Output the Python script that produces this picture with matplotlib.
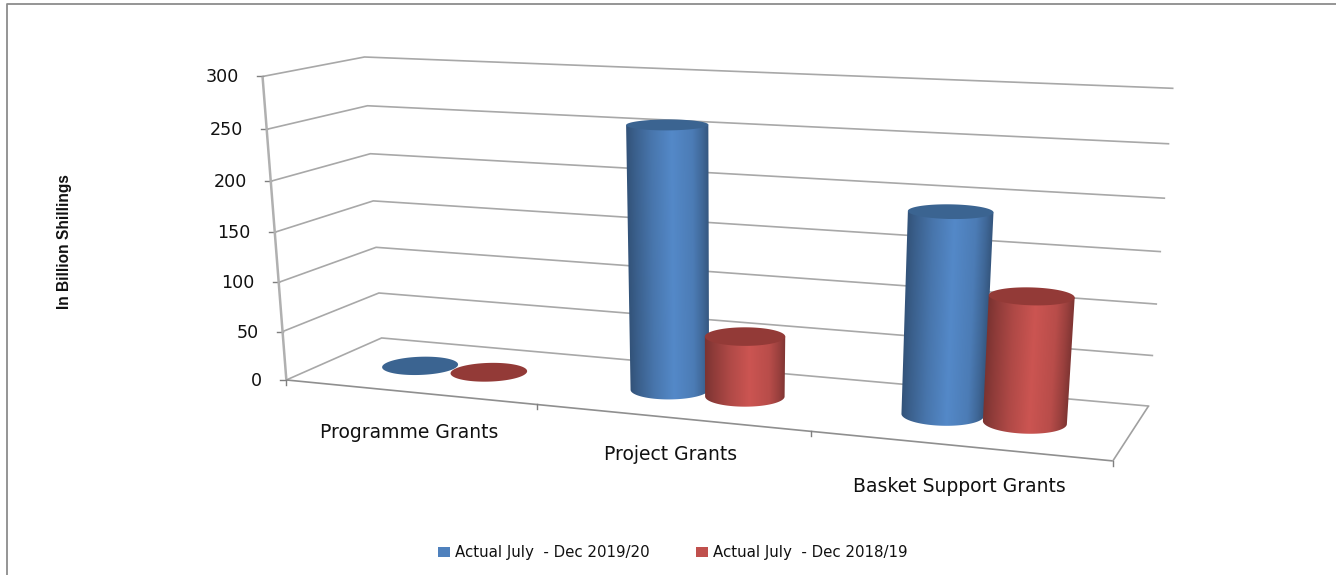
import numpy as np
import matplotlib
matplotlib.use('Agg')
import matplotlib.pyplot as plt
from matplotlib.colors import to_rgb
from matplotlib.patches import Patch, Polygon

# chart values, billion shillings
categories = ['Programme Grants', 'Project Grants', 'Basket Support Grants']
series_names = ['Actual July  - Dec 2019/20', 'Actual July  - Dec 2018/19']
actual_2019_20 = [0.3, 259, 193]
actual_2018_19 = [0.3, 60, 120]
value_ticks = [0, 50, 100, 150, 200, 250, 300]

SERIES_COLORS = ['#4f81bd', '#c0504d']
TOP_COLORS = ['#3b6491', '#933a37']
GRID_COLOR = '#a8a8a8'
BAR_OFFSET = 0.142
RADIUS_X = 0.14
RADIUS_D = 0.20
LABEL_POS = [(409, 433), (671, 455), (959, 487)]

# pixel positions of the plot box corners, used to fit the camera:
# (category position, depth, value) -> (px, py)
calib = [
    (0, 0, 300, 262, 77), (0, 0, 250, 267, 129), (0, 0, 200, 270, 181),
    (0, 0, 150, 274, 232), (0, 0, 100, 278, 282), (0, 0, 50, 283, 331),
    (0, 0, 0, 288, 380),
    (0, 1, 300, 365, 57), (0, 1, 250, 368, 106), (0, 1, 200, 371, 154),
    (0, 1, 150, 373, 201), (0, 1, 100, 376, 247), (0, 1, 50, 379, 293),
    (0, 1, 0, 380, 338),
    (3, 1, 300, 1173, 88), (3, 1, 250, 1168, 144), (3, 1, 200, 1164, 198),
    (3, 1, 150, 1160, 252), (3, 1, 100, 1157, 304), (3, 1, 50, 1153, 355),
    (3, 1, 0, 1148, 406),
    (3, 0, 0, 1113, 460), (1, 0, 0, 538, 405), (2, 0, 0, 810, 433),
]


def fit_camera(points):
    """ Least squares fit of a 3x4 projection matrix (last element fixed to 1). """
    rows, rhs = [], []
    for x, d, v, px, py in points:
        w = [x, d, v / 100, 1]
        rows.append(w + [0, 0, 0, 0] + [-px * c for c in w[:3]])
        rhs.append(px)
        rows.append([0, 0, 0, 0] + w + [-py * c for c in w[:3]])
        rhs.append(py)
    sol = np.linalg.lstsq(np.array(rows, float), np.array(rhs, float), rcond=None)[0]
    return np.append(sol, 1).reshape(3, 4)


CAMERA = fit_camera(calib)


def project(x, d, v):
    """ Maps category position, depth and value to pixel coordinates. """
    x, d, v = np.broadcast_arrays(x, d, np.asarray(v, float) / 100)
    world = np.stack([x, d, v, np.ones_like(x, dtype=float)], axis=-1)
    p = world @ CAMERA.T
    return p[..., :2] / p[..., 2:]


def line3d(ax, start, end, lw=1.2, color=GRID_COLOR, zorder=1):
    pts = project(*np.array([start, end], float).T)
    ax.plot(pts[:, 0], pts[:, 1], color=color, lw=lw, zorder=zorder, solid_capstyle='butt')


def shade(base, t):
    # dark on the edges of the cylinder, brightest slightly right of the centre
    base = np.array(to_rgb(base))
    factor = np.interp(t, [0, 0.1, 0.3, 0.55, 0.8, 0.92, 1], [0.64, 0.74, 0.91, 1.06, 0.96, 0.8, 0.66])
    return np.clip(base[None, None, :] * factor[..., None], 0, 1)


def draw_cylinder(ax, cx, value, color, top_color, zorder):
    theta = np.linspace(0, 2 * np.pi, 361)[:-1]
    x = cx + RADIUS_X * np.cos(theta)
    d = 0.5 + RADIUS_D * np.sin(theta)
    base = project(x, d, 0)
    top = project(x, d, value)

    if value > 1:
        left, right = np.argmin(base[:, 0]), np.argmax(base[:, 0])
        # the arc facing the viewer is the one with the lower pixels
        arc_a = (left + np.arange((right - left) % 360 + 1)) % 360
        arc_b = (left - np.arange((left - right) % 360 + 1)) % 360
        arc = arc_a if base[arc_a, 1].mean() > base[arc_b, 1].mean() else arc_b
        outline = np.vstack([top[left], base[arc], top[right]])

        # horizontal gradient between the two slanted silhouette lines
        x0, x1 = outline[:, 0].min() - 1, outline[:, 0].max() + 1
        y0, y1 = outline[:, 1].min() - 1, outline[:, 1].max() + 1
        gx, gy = np.meshgrid(np.linspace(x0, x1, int(x1 - x0) * 2), np.linspace(y0, y1, int(y1 - y0) * 2))
        frac = (gy - base[left, 1]) / (top[left, 1] - base[left, 1])
        xl = base[left, 0] + frac * (top[left, 0] - base[left, 0])
        xr = base[right, 0] + frac * (top[right, 0] - base[right, 0])
        rgb = shade(color, np.clip((gx - xl) / (xr - xl), 0, 1))
        im = ax.imshow(rgb, extent=(x0, x1, y1, y0), aspect='auto', interpolation='bilinear', zorder=zorder)
        im.set_clip_path(Polygon(outline, closed=True, transform=ax.transData))

    ax.add_patch(Polygon(top, closed=True, facecolor=top_color, edgecolor='none', zorder=zorder + 0.1))


fig = plt.figure(figsize=(13.36, 5.75), dpi=100)
ax = fig.add_axes([0, 0, 1, 1])
ax.axis('off')

# outer chart frame, only the top and left edges are inside the canvas
ax.plot([7, 7, 1336], [575, 4, 4], color='#8c8c8c', lw=1.3, zorder=1)

# walls and gridlines
for v in value_ticks:
    pts = project(np.array([0.0, 0.0, 3.0]), np.array([0.0, 1.0, 1.0]), v)
    ax.plot(pts[:, 0], pts[:, 1], color=GRID_COLOR, lw=1.2, zorder=1, solid_joinstyle='miter')
    tick = project(0, 0, v)
    ax.plot([tick[0] - 6, tick[0]], [tick[1], tick[1]], color='#7f7f7f', lw=1, zorder=1)
    ax.text(tick[0] - 24, tick[1] + 1, str(v), ha='right', va='center', fontsize=12.6, color='#111111')

line3d(ax, (0, 0, 0), (0, 0, 300), lw=1.8, color='#b0b0b0')
line3d(ax, (0, 0, 0), (3, 0, 0), color='#8f8f8f')
line3d(ax, (3, 0, 0), (3, 1, 0), color='#a0a0a0')

# ticks below the front edge of the floor
for i in range(len(categories) + 1):
    p = project(i, 0, 0)
    ax.plot([p[0], p[0]], [p[1], p[1] + 5], color='#7f7f7f', lw=1, zorder=1)

# cylinders, back series first so the red ones overlap the blue ones
for i in range(len(categories)):
    draw_cylinder(ax, i + 0.5 - BAR_OFFSET, actual_2019_20[i], SERIES_COLORS[0], TOP_COLORS[0], 3 + i)
    draw_cylinder(ax, i + 0.5 + BAR_OFFSET, actual_2018_19[i], SERIES_COLORS[1], TOP_COLORS[1], 3.5 + i)

for name, (px, py) in zip(categories, LABEL_POS):
    ax.text(px, py, name, ha='center', va='center', fontsize=13.5, color='#111111')

ax.text(65, 242, 'In Billion Shillings', rotation=90, ha='center', va='center', fontsize=11.2,
        fontweight='bold', family='Liberation Sans', color='#111111')

handles = [Patch(facecolor=c, edgecolor='none') for c in SERIES_COLORS]
ax.legend(handles, series_names, loc='center', bbox_to_anchor=(673 / 1336, 1 - 553 / 575), ncol=2,
          frameon=False, fontsize=10.8, handlelength=0.8, handleheight=0.62, handletextpad=0.33,
          columnspacing=3.1, labelcolor='#111111')

# imshow changes the limits, so the pixel frame is set last
ax.set_xlim(0, 1336)
ax.set_ylim(575, 0)

fig.savefig('out.png', dpi=100)
